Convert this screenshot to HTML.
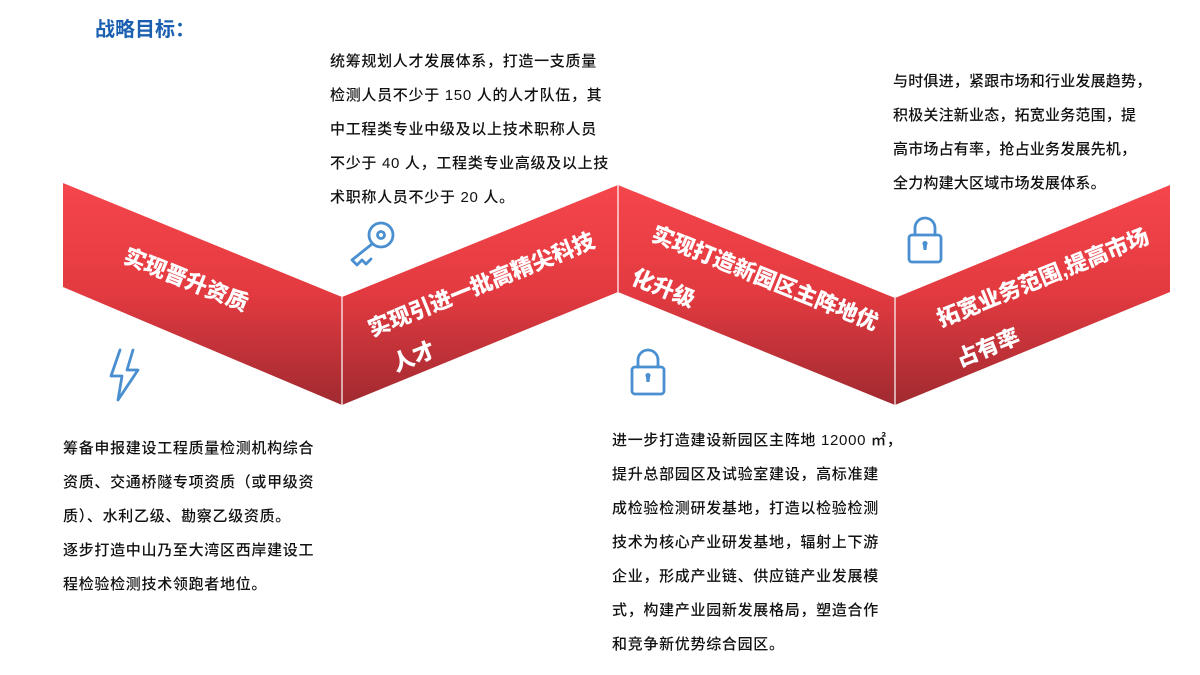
<!DOCTYPE html>
<html><head><meta charset="utf-8"><style>
body{margin:0;width:1200px;height:675px;background:#fff;overflow:hidden;position:relative;font-family:"Liberation Sans","Noto Sans CJK SC",sans-serif;}
.t{position:absolute;font-size:15px;line-height:34px;color:#111;white-space:nowrap;letter-spacing:0.7px;font-weight:500;}
.title{position:absolute;left:95px;top:13px;font-size:20px;font-weight:bold;color:#1a5fb0;}
</style></head><body>
<div class="title">战略目标：</div>
<svg width="1200" height="675" style="position:absolute;left:0;top:0">
<defs>
<linearGradient id="g1" gradientUnits="userSpaceOnUse" x1="0" y1="183" x2="0" y2="405">
<stop offset="0" stop-color="#f5464c"/><stop offset="0.5" stop-color="#e23a40"/><stop offset="1" stop-color="#a02a30"/>
</linearGradient>
</defs>
<polygon points="63,183 342,297 342,405 63,287" fill="url(#g1)"/>
<polygon points="342,297 618,185 618,292 342,405" fill="url(#g1)"/>
<polygon points="618,185 895,298 895,405 618,292" fill="url(#g1)"/>
<polygon points="895,298 1170,185 1170,292 895,405" fill="url(#g1)"/>
<line x1="342" y1="297" x2="342" y2="405" stroke="#fff" stroke-width="1.2"/>
<line x1="618" y1="185" x2="618" y2="292" stroke="#fff" stroke-width="1.2"/>
<line x1="895" y1="298" x2="895" y2="405" stroke="#fff" stroke-width="1.2"/>
<g font-family="Liberation Sans,Noto Sans CJK SC,sans-serif" font-weight="900" font-size="22" fill="#fff">
<text transform="translate(122,262) rotate(22)">实现晋升资质</text>
<text transform="translate(372,337) rotate(-22)">实现引进一批高精尖科技</text>
<text transform="translate(396,372) rotate(-22)">人才</text>
<text transform="translate(650,240) rotate(22)">实现打造新园区主阵地优</text>
<text transform="translate(630,283) rotate(22)">化升级</text>
<text transform="translate(941,327) rotate(-22)">拓宽业务范围,提高市场</text>
<text transform="translate(960,367) rotate(-22)">占有率</text>
</g>
<g fill="none" stroke="#4a8fd0" stroke-width="2.8" stroke-linejoin="round" stroke-linecap="round">
<circle cx="381" cy="235" r="12"/><circle cx="381" cy="235" r="3.5"/>
<path d="M372,244 L352,260 L357,265 L362,260 L366,264 L371,259"/>
<path d="M120,350 L111,376 L122,376 L118,400 L138,370 L127,370 L133,350"/>
<path d="M638,367 V360 a10,10 0 0 1 20,0 V367"/><rect x="632" y="367" width="32" height="27" rx="3"/>
<path d="M915,235 V228 a10,10 0 0 1 20,0 V235"/><rect x="909" y="235" width="32" height="27" rx="3"/>
</g>
<path d="M646,377 a2.5,2.5 0 1 1 4,0 l-0.5,5 h-3z" fill="#4a8fd0"/>
<path d="M923,245 a2.5,2.5 0 1 1 4,0 l-0.5,5 h-3z" fill="#4a8fd0"/>
</svg>
<div class="t" style="left:330px;top:45px">统筹规划人才发展体系，打造一支质量<br>检测人员不少于 150 人的人才队伍，其<br>中工程类专业中级及以上技术职称人员<br>不少于 40 人，工程类专业高级及以上技<br>术职称人员不少于 20 人。</div>
<div class="t" style="left:893px;top:65px;letter-spacing:0.2px">与时俱进，紧跟市场和行业发展趋势，<br>积极关注新业态，拓宽业务范围，提<br>高市场占有率，抢占业务发展先机，<br>全力构建大区域市场发展体系。</div>
<div class="t" style="left:63px;top:432px">筹备申报建设工程质量检测机构综合<br>资质、交通桥隧专项资质（或甲级资<br>质）、水利乙级、勘察乙级资质。<br>逐步打造中山乃至大湾区西岸建设工<br>程检验检测技术领跑者地位。</div>
<div class="t" style="left:612px;top:424px">进一步打造建设新园区主阵地 12000 ㎡，<br>提升总部园区及试验室建设，高标准建<br>成检验检测研发基地，打造以检验检测<br>技术为核心产业研发基地，辐射上下游<br>企业，形成产业链、供应链产业发展模<br>式，构建产业园新发展格局，塑造合作<br>和竞争新优势综合园区。</div>
</body></html>
